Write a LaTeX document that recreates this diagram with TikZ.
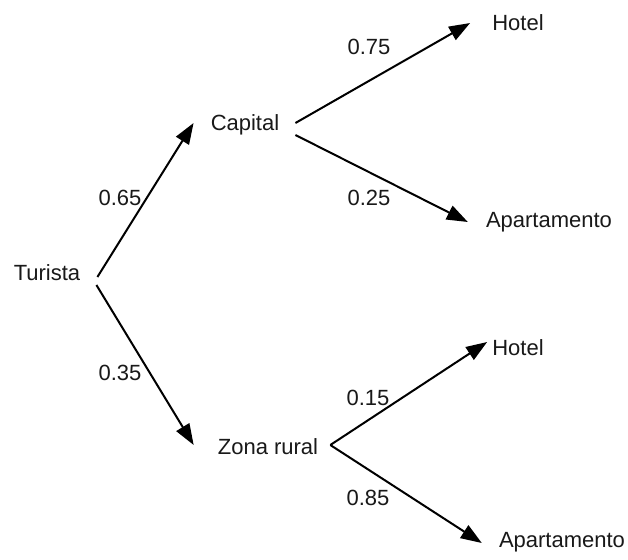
\documentclass[tikz,border=0pt]{standalone}
\usepackage{fontspec}
\setmainfont{Liberation Sans}
\usetikzlibrary{arrows.meta}
\begin{document}
\begin{tikzpicture}[x=1pt,y=-1pt,
  lbl/.style={inner sep=0pt,text height=16pt,text depth=0pt,font=\fontsize{22}{26}\selectfont,text=black!90},
  prob/.style={lbl},
  branch/.style={line width=2pt,-{Triangle[length=21pt,width=15pt]}}]
  \useasboundingbox[fill=white] (0,0) rectangle (628,559);
  % tree nodes
  \node[lbl] (tur) at (47,272) {Turista};
  \node[lbl] (cap) at (245,122) {Capital};
  \node[lbl] (zon) at (268,446) {Zona rural};
  \node[lbl] (h1) at (518,23) {Hotel};
  \node[lbl] (a1) at (549,219) {Apartamento};
  \node[lbl] (h2) at (518,347) {Hotel};
  \node[lbl] (a2) at (562,539) {Apartamento};
  % branches
  \draw[branch] ([shift={(17,5)}]tur.east) -- ([shift={(-17,1)}]cap.west);
  \draw[branch] ([shift={(16,13)}]tur.east) -- ([shift={(-24,-1)}]zon.west);
  \draw[branch] ([shift={(16,1)}]cap.east) -- ([shift={(-22,0)}]h1.west);
  \draw[branch] ([shift={(16,13)}]cap.east) -- ([shift={(-18,3)}]a1.west);
  \draw[branch] ([shift={(12,-1)}]zon.east) -- ([shift={(-5,-5)}]h2.west);
  \draw[branch] ([shift={(12,-1)}]zon.east) -- ([shift={(-17,4)}]a2.west);
  % probabilities
  \node[prob] (p65) at (120,197) {0.65};
  \node[prob] (p35) at (120,372) {0.35};
  \node[prob] (p75) at (369,47) {0.75};
  \node[prob] (p25) at (369,197) {0.25};
  \node[prob] (p15) at (368,397) {0.15};
  \node[prob] (p85) at (368,497) {0.85};
\end{tikzpicture}
\end{document}
